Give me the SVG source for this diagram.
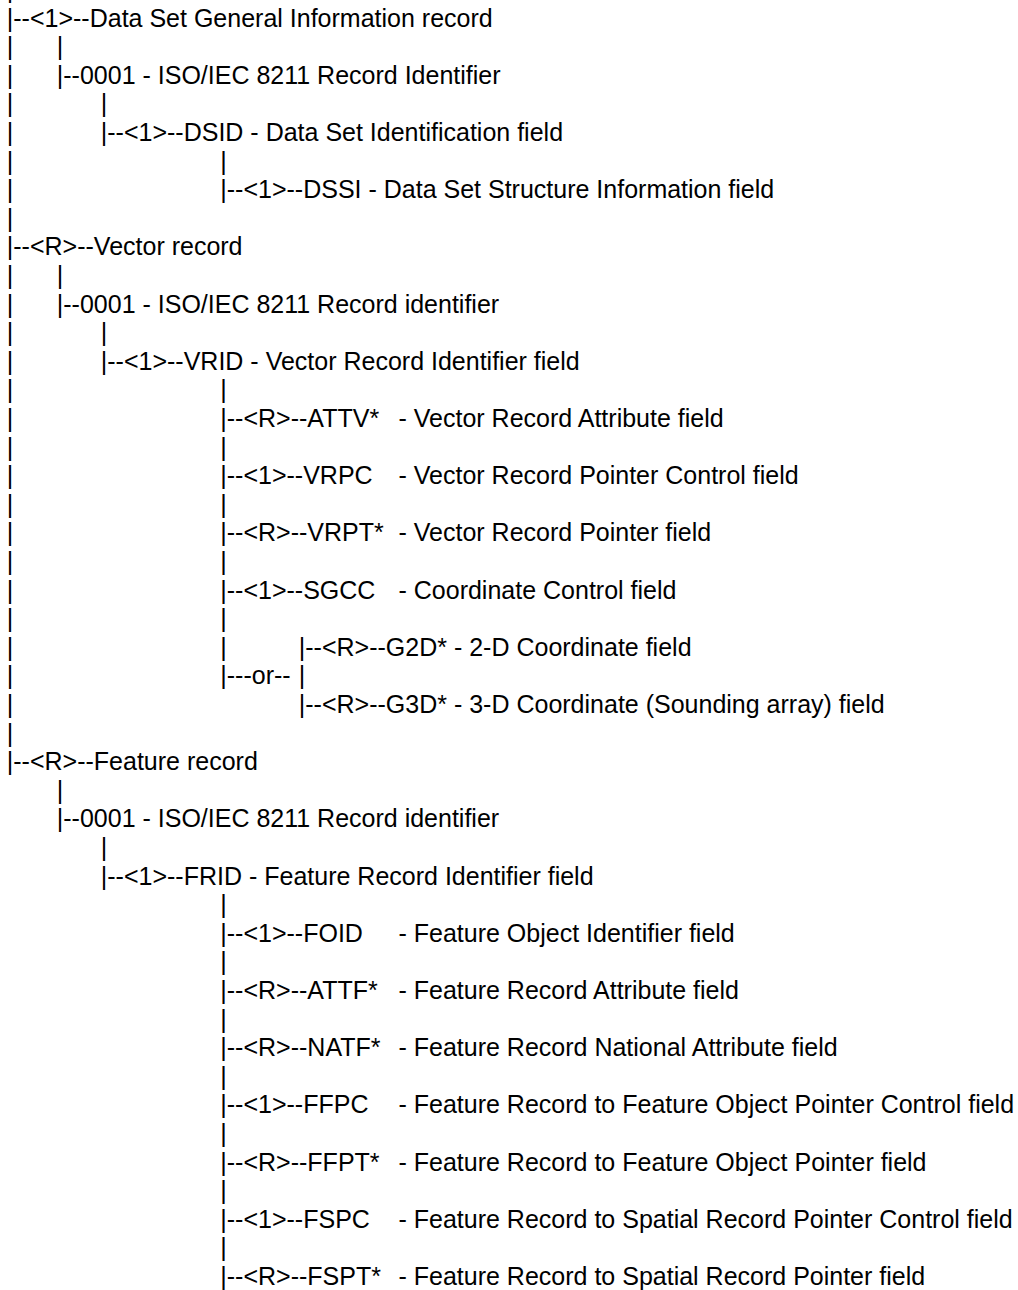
<svg xmlns="http://www.w3.org/2000/svg" width="1018" height="1290" viewBox="0 0 1018 1290">
<style>
text{font-family:"Liberation Sans",Arial,Helvetica,sans-serif;font-size:25px;fill:#000}
.a{}
</style>
<rect x="0" y="0" width="1018" height="1290" fill="#fff"/>
<g id="connectors">
<text x="6.8" y="-2.1">|</text>
<text x="6.8" y="55.1">|</text><text x="56.8" y="55.1">|</text>
<text x="6.8" y="83.7">|</text>
<text x="6.8" y="112.3">|</text><text x="100.8" y="112.3">|</text>
<text x="6.8" y="140.9">|</text>
<text x="6.8" y="169.5">|</text><text x="220.3" y="169.5">|</text>
<text x="6.8" y="198.1">|</text>
<text x="6.8" y="226.7">|</text>
<text x="6.8" y="283.9">|</text><text x="56.8" y="283.9">|</text>
<text x="6.8" y="312.5">|</text>
<text x="6.8" y="341.1">|</text><text x="100.8" y="341.1">|</text>
<text x="6.8" y="369.7">|</text>
<text x="6.8" y="398.3">|</text><text x="220.3" y="398.3">|</text>
<text x="6.8" y="426.9">|</text>
<text x="6.8" y="455.5">|</text><text x="220.3" y="455.5">|</text>
<text x="6.8" y="484.1">|</text>
<text x="6.8" y="512.7">|</text><text x="220.3" y="512.7">|</text>
<text x="6.8" y="541.3">|</text>
<text x="6.8" y="569.9">|</text><text x="220.3" y="569.9">|</text>
<text x="6.8" y="598.5">|</text>
<text x="6.8" y="627.1">|</text><text x="220.3" y="627.1">|</text>
<text x="6.8" y="655.7">|</text><text x="220.3" y="655.7">|</text>
<text x="6.8" y="684.3">|</text><text x="220.3" y="684.3">|---or--</text><text x="298.8" y="684.3">|</text>
<text x="6.8" y="712.9">|</text>
<text x="6.8" y="741.5">|</text>
<text x="56.8" y="798.7">|</text>
<text x="100.8" y="855.9">|</text>
<text x="220.3" y="913.1">|</text>
<text x="220.3" y="970.3">|</text>
<text x="220.3" y="1027.5">|</text>
<text x="220.3" y="1084.7">|</text>
<text x="220.3" y="1141.9">|</text>
<text x="220.3" y="1199.1">|</text>
<text x="220.3" y="1256.3">|</text>
</g>
<g id="dsgi"><text x="6.8" y="26.5">|--&lt;1&gt;--Data Set General Information record</text></g>
<g id="dsgi-0001"><text x="56.8" y="83.7">|--0001 - ISO/IEC 8211 Record Identifier</text></g>
<g id="dsid"><text x="100.8" y="140.9">|--&lt;1&gt;--DSID - Data Set Identification field</text></g>
<g id="dssi"><text x="220.3" y="198.1">|--&lt;1&gt;--DSSI - Data Set Structure Information field</text></g>
<g id="vector"><text x="6.8" y="255.3">|--&lt;R&gt;--Vector record</text></g>
<g id="vector-0001"><text x="56.8" y="312.5">|--0001 - ISO/IEC 8211 Record identifier</text></g>
<g id="vrid"><text x="100.8" y="369.7">|--&lt;1&gt;--VRID - Vector Record Identifier field</text></g>
<g id="attv"><text x="220.3" y="426.9">|--&lt;R&gt;--ATTV*</text><text x="398.5" y="426.9">- Vector Record Attribute field</text></g>
<g id="vrpc"><text x="220.3" y="484.1">|--&lt;1&gt;--VRPC</text><text x="398.5" y="484.1">- Vector Record Pointer Control field</text></g>
<g id="vrpt"><text x="220.3" y="541.3">|--&lt;R&gt;--VRPT*</text><text x="398.5" y="541.3">- Vector Record Pointer field</text></g>
<g id="sgcc"><text x="220.3" y="598.5">|--&lt;1&gt;--SGCC</text><text x="398.5" y="598.5">- Coordinate Control field</text></g>
<g id="g2d"><text x="298.8" y="655.7">|--&lt;R&gt;--G2D* - 2-D Coordinate field</text></g>
<g id="g3d"><text x="298.8" y="712.9">|--&lt;R&gt;--G3D* - 3-D Coordinate (Sounding array) field</text></g>
<g id="feature"><text x="6.8" y="770.1">|--&lt;R&gt;--Feature record</text></g>
<g id="feature-0001"><text x="56.8" y="827.3">|--0001 - ISO/IEC 8211 Record identifier</text></g>
<g id="frid"><text x="100.8" y="884.5">|--&lt;1&gt;--FRID - Feature Record Identifier field</text></g>
<g id="foid"><text x="220.3" y="941.7">|--&lt;1&gt;--FOID</text><text x="398.5" y="941.7">- Feature Object Identifier field</text></g>
<g id="attf"><text x="220.3" y="998.9">|--&lt;R&gt;--ATTF*</text><text x="398.5" y="998.9">- Feature Record Attribute field</text></g>
<g id="natf"><text x="220.3" y="1056.1">|--&lt;R&gt;--NATF*</text><text x="398.5" y="1056.1">- Feature Record National Attribute field</text></g>
<g id="ffpc"><text x="220.3" y="1113.3">|--&lt;1&gt;--FFPC</text><text x="398.5" y="1113.3">- Feature Record to Feature Object Pointer Control field</text></g>
<g id="ffpt"><text x="220.3" y="1170.5">|--&lt;R&gt;--FFPT*</text><text x="398.5" y="1170.5">- Feature Record to Feature Object Pointer field</text></g>
<g id="fspc"><text x="220.3" y="1227.7">|--&lt;1&gt;--FSPC</text><text x="398.5" y="1227.7">- Feature Record to Spatial Record Pointer Control field</text></g>
<g id="fspt"><text x="220.3" y="1284.9">|--&lt;R&gt;--FSPT*</text><text x="398.5" y="1284.9">- Feature Record to Spatial Record Pointer field</text></g>
</svg>
